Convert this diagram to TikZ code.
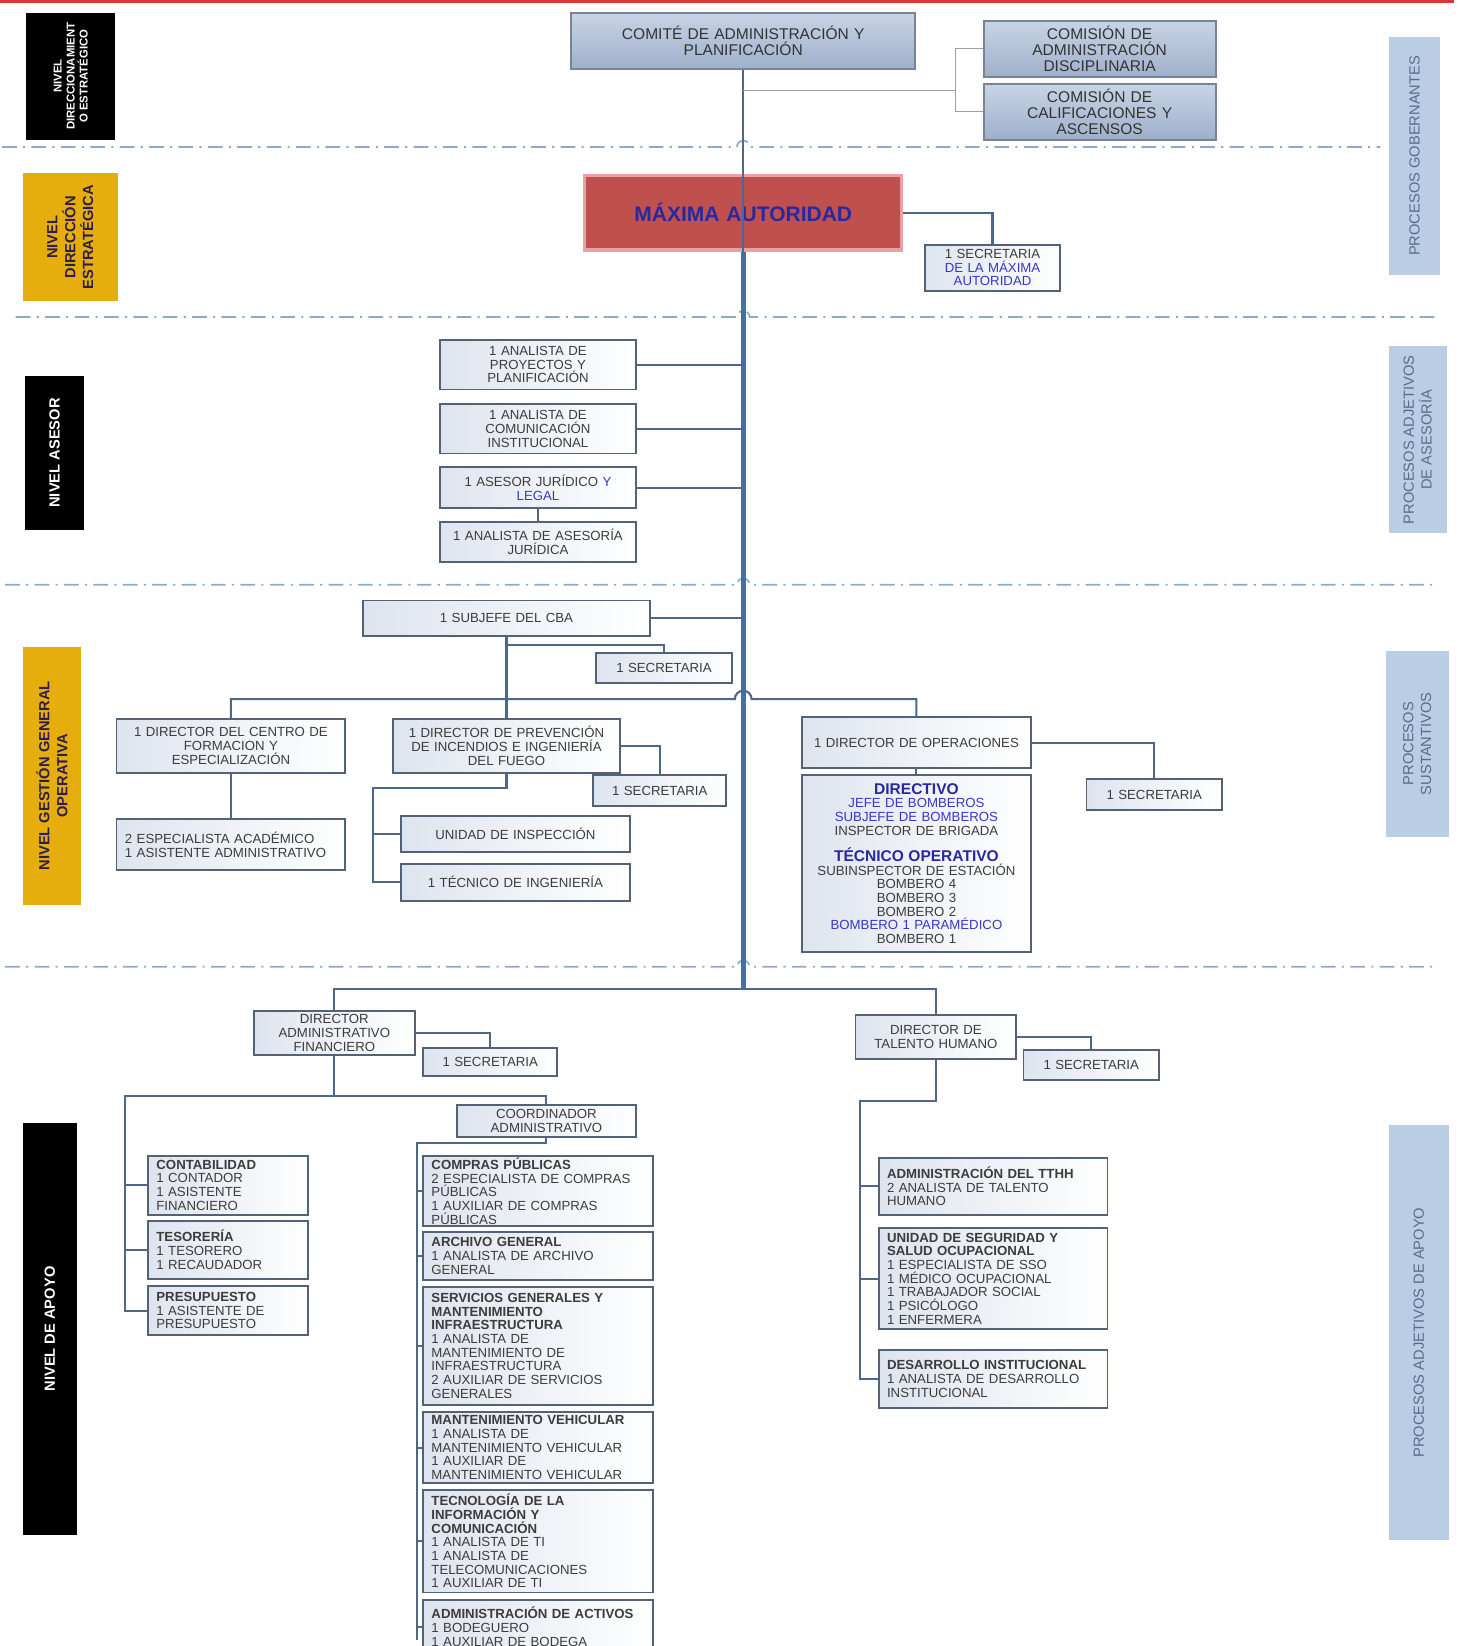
\documentclass[tikz,border=0pt]{standalone}
\usepackage{fontspec}
\setmainfont{Liberation Sans}
\usepackage{xcolor}
\definecolor{linkblue}{RGB}{78,104,140}
\definecolor{spineblue}{RGB}{70,112,162}
\definecolor{sepblue}{RGB}{140,170,205}
\definecolor{boxedge}{RGB}{84,98,120}
\definecolor{boxshade}{RGB}{222,228,238}
\definecolor{boxtext}{RGB}{60,60,60}
\definecolor{txtblue}{RGB}{55,55,200}
\definecolor{headblue}{RGB}{40,40,160}
\definecolor{gold}{RGB}{230,174,12}
\definecolor{goldtext}{RGB}{45,30,80}
\definecolor{procfill}{RGB}{185,205,229}
\definecolor{proctext}{RGB}{88,108,140}
\definecolor{comtop}{RGB}{200,212,230}
\definecolor{combot}{RGB}{158,176,202}
\definecolor{comedge}{RGB}{120,132,150}
\definecolor{mafill}{RGB}{192,80,77}
\definecolor{maedge}{RGB}{232,160,160}
\definecolor{topred}{RGB}{215,55,55}
\tikzset{
  box/.style={draw=boxedge, line width=0.9pt, left color=boxshade, right color=white,
    text=boxtext, inner xsep=4pt, inner ysep=1pt, align=center,
    font=\fontsize{6.3}{6.5}\selectfont},
  lbox/.style={box, align=left},
  combox/.style={box, draw=comedge, top color=comtop, bottom color=combot,
    text=boxtext!85!black, font=\fontsize{7.4}{7.8}\selectfont},
  mabox/.style={draw=maedge, line width=1.6pt, fill=mafill, text=headblue,
    inner xsep=4pt, align=center, font=\bfseries\fontsize{10}{12}\selectfont},
  side/.style={rotate=90, inner sep=1pt, align=center},
  procbox/.style={side, fill=procfill, text=proctext, font=\fontsize{7}{8.5}\selectfont},
  blackside/.style={side, fill=black, text=white, font=\bfseries\fontsize{7}{8}\selectfont},
  goldside/.style={side, fill=gold, text=goldtext, font=\bfseries\fontsize{7}{8.5}\selectfont},
  link/.style={draw=linkblue, line width=1pt},
  thinlink/.style={draw=gray!75, line width=0.5pt},
  spine/.style={draw=spineblue, line width=2.2pt},
  spinethin/.style={draw=linkblue, line width=1pt},
  sep/.style={draw=sepblue, line width=0.8pt, dash pattern=on 7pt off 3pt on 1pt off 3pt}
}
% box from corner (#3,#4) to corner (#5,#6)
\newcommand\OrgBox[7][box]{
  \pgfmathsetmacro{\w}{(#5-#3)/2}
  \pgfmathsetmacro{\h}{(#6-#4)/2}
  \pgfmathsetmacro{\tw}{\w-8}
  \node[#1, minimum width=\w pt, minimum height=\h pt, text width=\tw pt]
    (#2) at ({(#3+#5)/2},{(#4+#6)/2}) {#7};
}
\newcommand\SideBox[7][procbox]{
  \pgfmathsetmacro{\w}{(#5-#3)/2}
  \pgfmathsetmacro{\h}{(#6-#4)/2}
  \node[#1, minimum width=\h pt, minimum height=\w pt]
    (#2) at ({(#3+#5)/2},{(#4+#6)/2}) {#7};
}

\begin{document}
\begin{tikzpicture}[x=0.5pt, y=-0.5pt]
\useasboundingbox (0,0) rectangle (1392,1568);
\draw[topred, line width=1.5pt] (0,1.5) -- (1385,1.5);

\foreach \y/\xa/\xb in {140/2/1315, 302/15/1370, 557/5/1370, 921/5/1370}
  \draw[sep] (\xa,\y) -- (702,\y) arc[start angle=180,end angle=0,radius=3pt] -- (\xb,\y);

% level labels
\SideBox[blackside,font=\bfseries\fontsize{5.4}{6.2}\selectfont]{nde}{25}{12}{110}{133}{NIVEL\\DIRECCIONAMIENT\\O ESTRATÉGICO}
\SideBox[goldside]{nds}{22}{165}{112}{287}{NIVEL\\DIRECCIÓN\\ESTRATÉGICA}
\SideBox[blackside]{nas}{24}{358}{80}{505}{NIVEL ASESOR}
\SideBox[goldside]{ngo}{22}{616}{77}{862}{NIVEL GESTIÓN GENERAL\\OPERATIVA}
\SideBox[blackside]{nap}{22}{1070}{73}{1462}{NIVEL DE APOYO}
\SideBox{pgob}{1323}{35}{1372}{262}{PROCESOS GOBERNANTES}
\SideBox{pase}{1323}{330}{1378}{508}{PROCESOS ADJETIVOS\\DE ASESORÍA}
\SideBox{psus}{1320}{620}{1380}{797}{PROCESOS\\SUSTANTIVOS}
\SideBox{papo}{1323}{1072}{1380}{1467}{PROCESOS ADJETIVOS DE APOYO}

% gobierno
\OrgBox[combox]{comite}{544}{12}{872}{66}{COMITÉ DE ADMINISTRACIÓN Y\\PLANIFICACIÓN}
\OrgBox[combox]{comdisc}{937}{20}{1158}{73}{COMISIÓN DE\\ADMINISTRACIÓN\\DISCIPLINARIA}
\OrgBox[combox]{comcal}{937}{80}{1158}{133}{COMISIÓN DE\\CALIFICACIONES Y\\ASCENSOS}
\OrgBox[mabox]{ma}{557}{167}{859}{238}{MÁXIMA AUTORIDAD}
\OrgBox{secma}{881}{233}{1010}{277}{1 SECRETARIA\\\textcolor{txtblue}{DE LA MÁXIMA}\\\textcolor{txtblue}{AUTORIDAD}}

% asesoria
\OrgBox{apy}{419}{324}{606}{371}{1 ANALISTA DE\\PROYECTOS Y\\PLANIFICACIÓN}
\OrgBox{aci}{419}{385}{606}{432}{1 ANALISTA DE\\COMUNICACIÓN\\INSTITUCIONAL}
\OrgBox{ajl}{419}{445}{606}{484}{1 ASESOR JURÍDICO \textcolor{txtblue}{Y}\\\textcolor{txtblue}{LEGAL}}
\OrgBox{aaj}{419}{497}{606}{535}{1 ANALISTA DE ASESORÍA\\JURÍDICA}

% operativa
\OrgBox{sub}{346}{572}{619}{606}{1 SUBJEFE DEL CBA}
\OrgBox{secsub}{568}{622}{697}{651}{1 SECRETARIA}
\OrgBox{dcf}{111}{685}{329}{736}{1 DIRECTOR DEL CENTRO DE\\FORMACION Y\\ESPECIALIZACIÓN}
\OrgBox[lbox]{esp}{111}{780}{329}{829}{2 ESPECIALISTA ACADÉMICO\\1 ASISTENTE ADMINISTRATIVO}
\OrgBox{dpi}{374}{685}{591}{736}{1 DIRECTOR DE PREVENCIÓN\\DE INCENDIOS E INGENIERÍA\\DEL FUEGO}
\OrgBox{secpi}{565}{738}{692}{768}{1 SECRETARIA}
\OrgBox{uni}{382}{777}{600}{812}{UNIDAD DE INSPECCIÓN}
\OrgBox{tec}{382}{823}{600}{858}{1 TÉCNICO DE INGENIERÍA}
\OrgBox{dop}{764}{683}{982}{732}{1 DIRECTOR DE OPERACIONES}
\OrgBox{grados}{764}{738}{982}{907}{{\bfseries\fontsize{7.4}{8}\selectfont\textcolor{headblue}{DIRECTIVO}}\\
  \textcolor{txtblue}{JEFE DE BOMBEROS}\\
  \textcolor{txtblue}{SUBJEFE DE BOMBEROS}\\
  INSPECTOR DE BRIGADA\\[5pt]
  {\bfseries\fontsize{7.4}{8}\selectfont\textcolor{headblue}{TÉCNICO OPERATIVO}}\\
  SUBINSPECTOR DE ESTACIÓN\\BOMBERO 4\\BOMBERO 3\\BOMBERO 2\\
  \textcolor{txtblue}{BOMBERO 1 PARAMÉDICO}\\BOMBERO 1}
\OrgBox{secop}{1035}{742}{1164}{772}{1 SECRETARIA}

% apoyo
\OrgBox{daf}{242}{963}{395}{1005}{DIRECTOR\\ADMINISTRATIVO\\FINANCIERO}
\OrgBox{secdaf}{403}{998}{531}{1025}{1 SECRETARIA}
\OrgBox{coord}{435}{1053}{606}{1083}{COORDINADOR\\ADMINISTRATIVO}
\OrgBox[lbox]{cont}{141}{1101}{293}{1157}{\textbf{CONTABILIDAD}\\1 CONTADOR\\1 ASISTENTE\\FINANCIERO}
\OrgBox[lbox]{tes}{141}{1163}{293}{1218}{\textbf{TESORERÍA}\\1 TESORERO\\1 RECAUDADOR}
\OrgBox[lbox]{pres}{141}{1225}{293}{1272}{\textbf{PRESUPUESTO}\\1 ASISTENTE DE\\PRESUPUESTO}
\OrgBox[lbox]{cp}{403}{1101}{622}{1168}{\textbf{COMPRAS PÚBLICAS}\\2 ESPECIALISTA DE COMPRAS\\PÚBLICAS\\1 AUXILIAR DE COMPRAS\\PÚBLICAS}
\OrgBox[lbox]{ag}{403}{1174}{622}{1219}{\textbf{ARCHIVO GENERAL}\\1 ANALISTA DE ARCHIVO\\GENERAL}
\OrgBox[lbox]{sg}{403}{1226}{622}{1338}{\textbf{SERVICIOS GENERALES Y}\\\textbf{MANTENIMIENTO}\\\textbf{INFRAESTRUCTURA}\\1 ANALISTA DE\\MANTENIMIENTO DE\\INFRAESTRUCTURA\\2 AUXILIAR DE SERVICIOS\\GENERALES}
\OrgBox[lbox]{mv}{403}{1345}{622}{1413}{\textbf{MANTENIMIENTO VEHICULAR}\\1 ANALISTA DE\\MANTENIMIENTO VEHICULAR\\1 AUXILIAR DE\\MANTENIMIENTO VEHICULAR}
\OrgBox[lbox]{tic}{403}{1419}{622}{1517}{\textbf{TECNOLOGÍA DE LA}\\\textbf{INFORMACIÓN Y}\\\textbf{COMUNICACIÓN}\\1 ANALISTA DE TI\\1 ANALISTA DE\\TELECOMUNICACIONES\\1 AUXILIAR DE TI}
\OrgBox[lbox]{act}{403}{1524}{622}{1575}{\textbf{ADMINISTRACIÓN DE ACTIVOS}\\1 BODEGUERO\\1 AUXILIAR DE BODEGA}
\OrgBox{dth}{815}{967}{968}{1009}{DIRECTOR DE\\TALENTO HUMANO}
\OrgBox{secdth}{975}{1000}{1104}{1029}{1 SECRETARIA}
\OrgBox[lbox]{tth}{837}{1103}{1055}{1157}{\textbf{ADMINISTRACIÓN DEL TTHH}\\2 ANALISTA DE TALENTO\\HUMANO}
\OrgBox[lbox]{sso}{837}{1170}{1055}{1266}{\textbf{UNIDAD DE SEGURIDAD Y}\\\textbf{SALUD OCUPACIONAL}\\1 ESPECIALISTA DE SSO\\1 MÉDICO OCUPACIONAL\\1 TRABAJADOR SOCIAL\\1 PSICÓLOGO\\1 ENFERMERA}
\OrgBox[lbox]{dei}{837}{1286}{1055}{1341}{\textbf{DESARROLLO INSTITUCIONAL}\\1 ANALISTA DE DESARROLLO\\INSTITUCIONAL}

% connectors
\coordinate (spineB) at (708,942);
\coordinate (jCom) at (708,86);
\coordinate (brk) at (910,86);
\draw[spinethin] (comite.south) -- (ma.south);
\draw[spine] (ma.south) -- (spineB);
\draw[thinlink] (jCom) -- (brk);
\draw[thinlink] (comdisc.west) -| (brk) |- (comcal.west);
\draw[link] (ma.east) -| (secma.north);
\foreach \n in {apy,aci,ajl,sub}
  \draw[link] (\n.east) -- (\n.east -| spineB);
\draw[link] (ajl) -- (aaj);

\coordinate (jSub) at (482.5,614);
\coordinate (hopL) at (700,666);
\coordinate (jPi) at (355,751);
\draw[link] (sub.south) -- (dpi.north);
\draw[link] (jSub) -| (secsub.north);
\draw[link] (dcf.north) |- (hopL) arc[start angle=180,end angle=0,radius=4pt] -| (dop.north);
\draw[link] (dcf) -- (esp);
\draw[link] (dpi.east) -| (secpi.north);
\draw[link] (dpi.south) |- (jPi) |- (tec.west);
\draw[link] (uni.west) -- (uni.west -| jPi);
\draw[link] (dop) -- (grados);
\draw[link] (dop.east) -| (secop.north);

\coordinate (lTop) at (119,1044);
\coordinate (rTop) at (397,1089);
\coordinate (rBot) at (397,1562);
\coordinate (tTop) at (819,1049);
\draw[link] (daf.north) |- (spineB) -| (dth.north);
\draw[link] (daf.east) -| (secdaf.north);
\draw[link] (dth.east) -| (secdth.north);
\draw[link] (daf.south) -- (daf.south |- lTop);
\draw[link] (coord.north) |- (lTop) |- (pres.west);
\foreach \n in {cont,tes}
  \draw[link] (\n.west) -- (\n.west -| lTop);
\draw[link] (coord.south) |- (rTop) -- (rBot);
\foreach \n in {cp,ag,sg,mv,tic,act}
  \draw[link] (\n.west) -- (\n.west -| rTop);
\draw[link] (dth.south) |- (tTop) |- (dei.west);
\foreach \n in {tth,sso}
  \draw[link] (\n.west) -- (\n.west -| tTop);
\end{tikzpicture}
\end{document}
